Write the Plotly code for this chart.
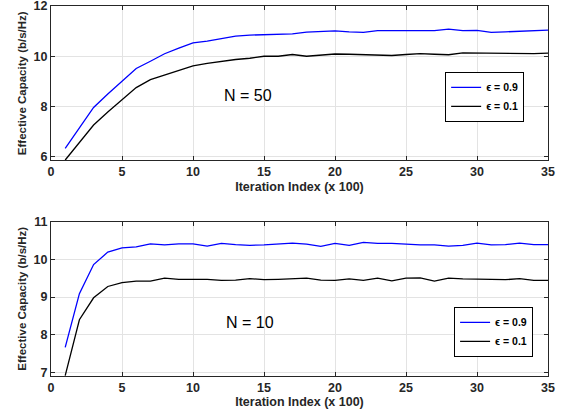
import plotly.graph_objects as go
from plotly.subplots import make_subplots

iters = list(range(1, 36))

# N = 50
n50_eps09 = [6.33, 7.15, 7.96, 8.5, 9.02, 9.51, 9.8, 10.1, 10.32, 10.53, 10.6, 10.7, 10.8, 10.84, 10.85,
             10.87, 10.89, 10.96, 11.0, 11.01, 10.97, 10.95, 11.02, 11.02, 11.02, 11.02, 11.02, 11.08,
             11.02, 11.03, 10.95, 10.97, 11.0, 11.02, 11.04]
n50_eps01 = [5.87, 6.55, 7.26, 7.78, 8.25, 8.75, 9.07, 9.25, 9.45, 9.62, 9.72, 9.81, 9.87, 9.92, 10.0,
             10.0, 10.07, 10.0, 10.05, 10.09, 10.08, 10.07, 10.06, 10.03, 10.07, 10.1, 10.08, 10.06,
             10.13, 10.12, 10.1, 10.1, 10.1, 10.1, 10.12]

# N = 10
n10_eps09 = [7.67, 9.09, 9.86, 10.19, 10.3, 10.33, 10.41, 10.38, 10.41, 10.41, 10.35, 10.42, 10.39,
             10.37, 10.38, 10.4, 10.43, 10.4, 10.34, 10.42, 10.37, 10.45, 10.42, 10.42, 10.39, 10.38,
             10.38, 10.35, 10.37, 10.43, 10.38, 10.39, 10.43, 10.39, 10.39]
n10_eps01 = [6.92, 8.4, 8.98, 9.28, 9.38, 9.42, 9.42, 9.5, 9.47, 9.47, 9.47, 9.44, 9.45, 9.49, 9.46,
             9.47, 9.48, 9.5, 9.45, 9.44, 9.48, 9.44, 9.5, 9.43, 9.5, 9.51, 9.42, 9.5, 9.48, 9.47,
             9.46, 9.46, 9.49, 9.44, 9.44]

labels = ["\u03f5 = 0.9", "\u03f5 = 0.1"]
colors = ["#0000ff", "#000000"]

FAM = "Liberation Sans, Arial, sans-serif"

fig = make_subplots(rows=2, cols=1, vertical_spacing=0.165)

for i, (ys, name) in enumerate(zip([n50_eps09, n50_eps01], labels)):
    fig.add_trace(go.Scatter(x=iters, y=ys, mode="lines", name=name,
                             line=dict(color=colors[i], width=1.3), legend="legend"), row=1, col=1)
for i, (ys, name) in enumerate(zip([n10_eps09, n10_eps01], labels)):
    fig.add_trace(go.Scatter(x=iters, y=ys, mode="lines", name=name,
                             line=dict(color=colors[i], width=1.3), legend="legend2"), row=2, col=1)

axis_common = dict(showline=True, linecolor="#262626", linewidth=1, mirror="ticks",
                   ticks="inside", ticklen=4, tickcolor="#262626", showgrid=True,
                   gridcolor="#e3e3e3", gridwidth=1, zeroline=False, automargin=False,
                   ticklabeloverflow="allow",
                   tickfont=dict(family=FAM, size=12.5, color="#262626", weight="bold"))

for r in (1, 2):
    fig.update_xaxes(range=[0, 35], dtick=5, tick0=0, row=r, col=1,
                     title=dict(text="Iteration Index (x 100)", standoff=3,
                                font=dict(family=FAM, size=12.5, color="#262626", weight="bold")),
                     **axis_common)
fig.update_yaxes(range=[5.85, 12], dtick=2, tick0=6, row=1, col=1,
                 title=dict(text="Effective Capacity (b/s/Hz)", standoff=4,
                            font=dict(family=FAM, size=11.5, color="#262626", weight="bold")),
                 **axis_common)
fig.update_yaxes(range=[6.91, 11], dtick=1, tick0=7, row=2, col=1,
                 title=dict(text="Effective Capacity (b/s/Hz)", standoff=4,
                            font=dict(family=FAM, size=11.5, color="#262626", weight="bold")),
                 **axis_common)

legfont = dict(family=FAM, size=10.5, color="#000000", weight="bold")
fig.update_layout(
    width=569, height=417,
    margin=dict(l=51, r=21, t=6, b=41),
    plot_bgcolor="white", paper_bgcolor="white",
    legend=dict(x=0.952, y=0.822, xanchor="right", yanchor="top",
                bgcolor="white", bordercolor="#000000", borderwidth=1,
                font=legfont, itemwidth=30, tracegroupgap=0),
    legend2=dict(x=0.97, y=0.187, xanchor="right", yanchor="top",
                 bgcolor="white", bordercolor="#000000", borderwidth=1,
                 font=legfont, itemwidth=30, tracegroupgap=0),
    annotations=[
        dict(x=13.9, y=8.44, xref="x", yref="y", text="N = 50", showarrow=False,
             font=dict(family=FAM, size=16, color="#000000")),
        dict(x=14.0, y=8.33, xref="x2", yref="y2", text="N = 10", showarrow=False,
             font=dict(family=FAM, size=16, color="#000000")),
    ],
)

fig.write_html("out.html", config={"displayModeBar": False},
               post_script="document.body.style.margin='0';document.body.style.overflow='hidden';")
